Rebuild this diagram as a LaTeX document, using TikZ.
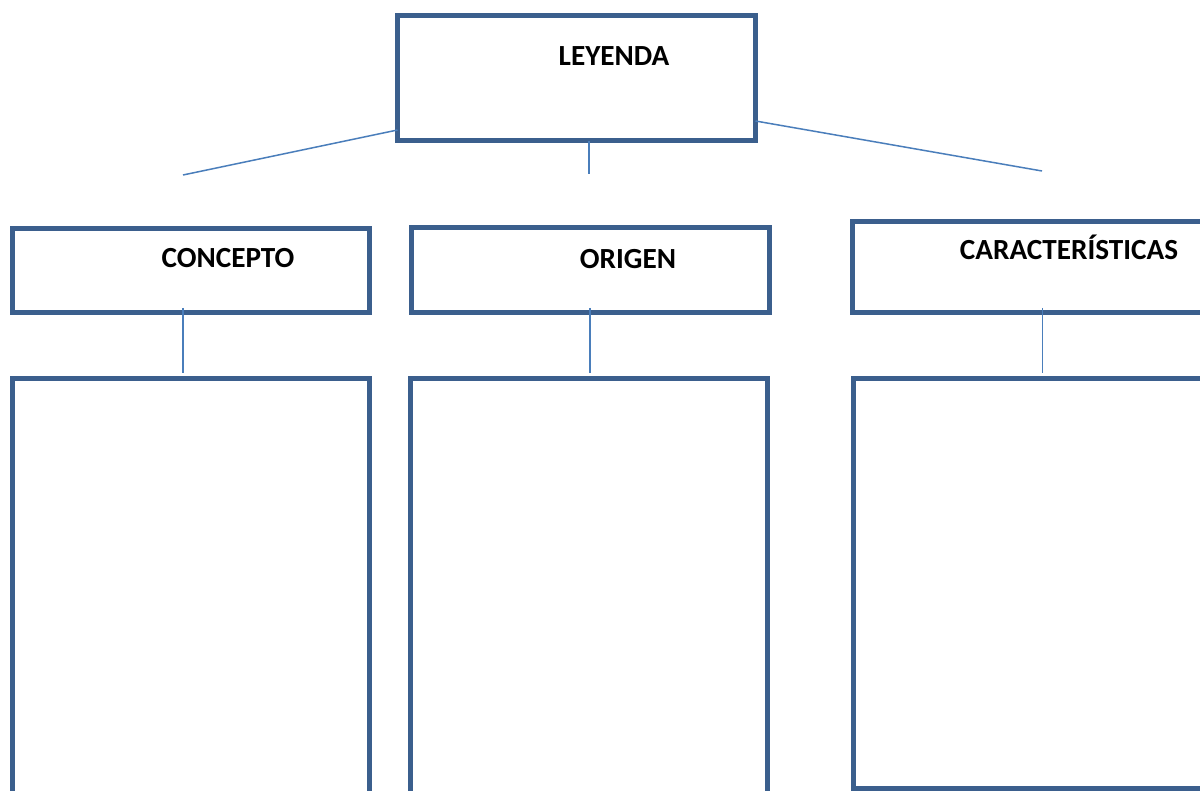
\documentclass[tikz,border=0pt]{standalone}
\usepackage{fontspec}
\setmainfont{Carlito}
\usetikzlibrary{calc}
\definecolor{boxblue}{HTML}{3B5F8D}
\definecolor{linkblue}{HTML}{4A7EBB}
\begin{document}
\begin{tikzpicture}[x=1pt,y=-1pt,
  frame/.style={draw=boxblue,line width=5pt,rectangle,inner sep=0pt,outer sep=0pt,anchor=north west},
  link/.style={draw=linkblue,line width=1.5pt},
  title/.style={anchor=base,font=\fontsize{29.2}{31}\selectfont\bfseries,inner sep=0pt}]
  \useasboundingbox (0,0) rectangle (1200,791);
  \clip (0,0) rectangle (1200,791);
  \fill[white] (0,0) rectangle (1200,791);

  % top box
  \node[frame,minimum width=358pt,minimum height=125pt] (ley) at (397.5,16) {};
  \node[title] (tley) at (614,66) {LEYENDA};

  % heading boxes
  \node[frame,minimum width=357.5pt,minimum height=84.5pt] (con) at (12,228.5) {};
  \node[frame,minimum width=358pt,minimum height=85pt] (ori) at (411,228) {};
  \node[frame,minimum width=360pt,minimum height=91pt] (car) at (852.5,221.5) {};
  \node[title] (tcon) at (228,268) {CONCEPTO};
  \node[title] (tori) at (628,268.3) {ORIGEN};
  \node[title] (tcar) at (1069,260) {CARACTERÍSTICAS};

  % content boxes
  \node[frame,minimum width=357.5pt,minimum height=440pt] (conb) at (12,379) {};
  \node[frame,minimum width=357pt,minimum height=440pt] (orib) at (410,379) {};
  \node[frame,minimum width=360pt,minimum height=409.5pt] (carb) at (853,379) {};

  % free ends of the branches under the top box
  \coordinate (bl) at (183,175);
  \coordinate (bm) at (589,174);
  \coordinate (br) at (1042,171);

  \draw[link] ($(ley.north west)+(0,114)$) -- (bl);
  \draw[link] ($(ley.south west)+(191.5,0)$) -- (bm);
  \draw[link] ($(ley.north east)+(0,105)$) -- (br);

  % heading to content
  \draw[link] ($(con.south west)+(171,-5)$) -- ($(conb.north west)+(171,-6)$);
  \draw[link] ($(ori.south west)+(179,-5)$) -- ($(orib.north west)+(180,-6)$);
  \draw[link] ($(car.south west)+(190,-4.5)$) -- ($(carb.north west)+(189.5,-6)$);
\end{tikzpicture}
\end{document}
